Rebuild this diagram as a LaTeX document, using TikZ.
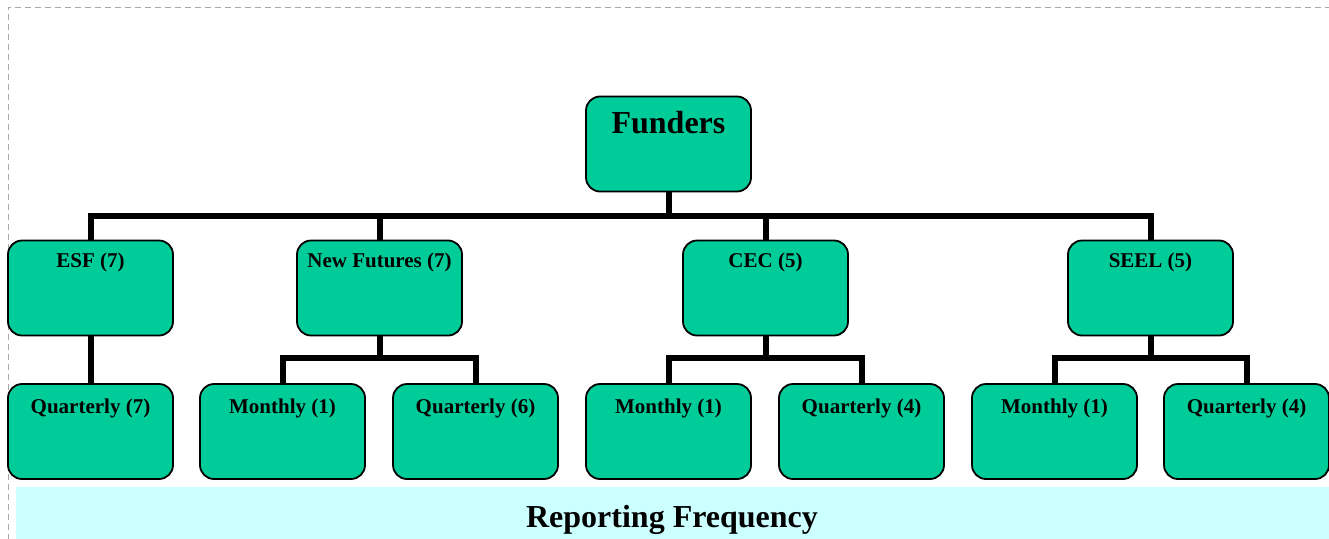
\documentclass[tikz,border=0pt]{standalone}
\usepackage{fontspec}
\setmainfont{Liberation Serif}
\definecolor{boxgreen}{HTML}{00CC99}
\definecolor{bandcyan}{HTML}{CCFFFF}
\definecolor{framegray}{HTML}{A8A8A8}
\begin{document}
\begin{tikzpicture}[x=1pt,y=-1pt,
  box/.style={draw=black, line width=1.8pt, fill=boxgreen, rounded corners=14pt,
    minimum width=165pt, minimum height=95pt, inner sep=0pt},
  toptext/.style={font=\bfseries\fontsize{32}{36}\selectfont},
  midtext/.style={font=\bfseries\fontsize{21}{24}\selectfont},
  bar/.style={line width=6pt, line join=miter, draw=black}]
\useasboundingbox (0,0) rectangle (1329,538);
\clip (0,0) rectangle (1329,538);
% frame
\draw[framegray, line width=1pt, dash pattern=on 6pt off 4pt] (8,540) -- (8,7) -- (1335,7);
% band
\fill[bandcyan] (16,487) rectangle (1340,545);
\node[font=\bfseries\fontsize{32}{36}\selectfont, anchor=base] (band) at (672,527) {Reporting Frequency};
% top
\node[box, label={[toptext, anchor=base, yshift=-38pt]north:Funders}] (fund) at (668.5,144) {};
% level 2
\node[box, label={[midtext, anchor=base, yshift=-28pt]north:ESF (7)}] (esf) at (90.5,288) {};
\node[box, label={[midtext, anchor=base, yshift=-28pt]north:New Futures (7)}] (nf) at (379.5,288) {};
\node[box, label={[midtext, anchor=base, yshift=-28pt]north:CEC (5)}] (cec) at (765.5,288) {};
\node[box, label={[midtext, anchor=base, yshift=-28pt]north:SEEL (5)}] (seel) at (1150.5,288) {};
% level 3
\node[box, label={[midtext, anchor=base, yshift=-30pt]north:Quarterly (7)}] (q7) at (90.5,431.5) {};
\node[box, label={[midtext, anchor=base, yshift=-30pt]north:Monthly (1)}] (m1a) at (282.5,431.5) {};
\node[box, label={[midtext, anchor=base, yshift=-30pt]north:Quarterly (6)}] (q6) at (475.5,431.5) {};
\node[box, label={[midtext, anchor=base, yshift=-30pt]north:Monthly (1)}] (m1b) at (668.5,431.5) {};
\node[box, label={[midtext, anchor=base, yshift=-30pt]north:Quarterly (4)}] (q4a) at (861.5,431.5) {};
\node[box, label={[midtext, anchor=base, yshift=-30pt]north:Monthly (1)}] (m1c) at (1054.5,431.5) {};
\node[box, label={[midtext, anchor=base, yshift=-30pt]north:Quarterly (4)}] (q4b) at (1246.5,431.5) {};
% connectors
\draw[bar] (fund.south) -- ++(0,24) -| (esf.north);
\draw[bar] (fund.south) -- ++(0,24) -| (nf.north);
\draw[bar] (fund.south) -- ++(0,24) -| (cec.north);
\draw[bar] (fund.south) -- ++(0,24) -| (seel.north);
\draw[bar] (esf.south) -- (q7.north);
\draw[bar] (nf.south) -- ++(0,22) -| (m1a.north);
\draw[bar] (nf.south) -- ++(0,22) -| (q6.north);
\draw[bar] (cec.south) -- ++(0,22) -| (m1b.north);
\draw[bar] (cec.south) -- ++(0,22) -| (q4a.north);
\draw[bar] (seel.south) -- ++(0,22) -| (m1c.north);
\draw[bar] (seel.south) -- ++(0,22) -| (q4b.north);
\end{tikzpicture}
\end{document}
